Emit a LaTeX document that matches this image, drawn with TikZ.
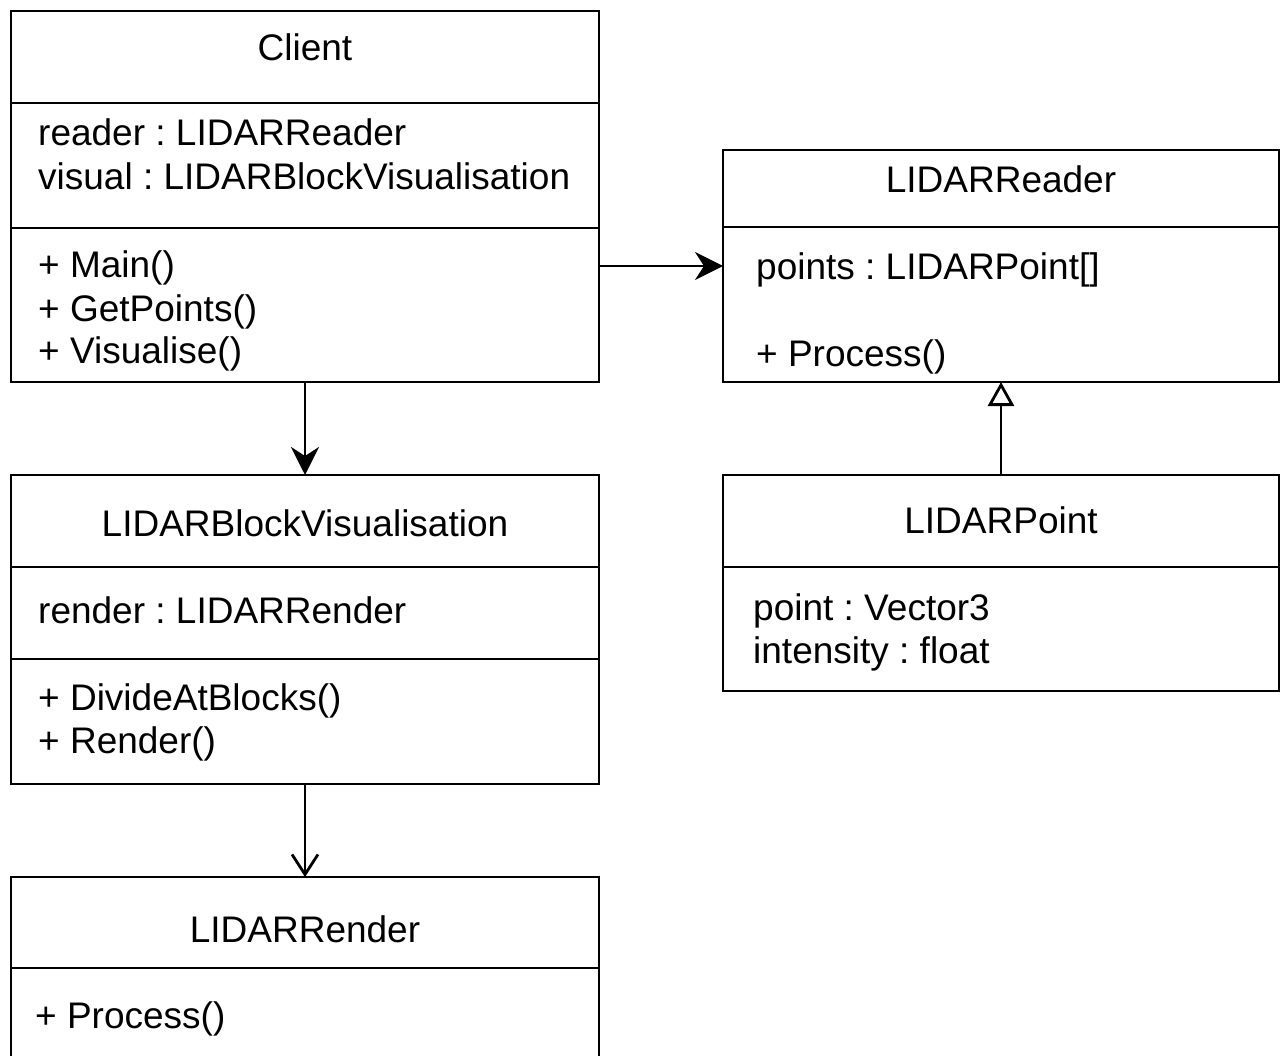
\documentclass[tikz,border=0pt]{standalone}
\usepackage{fontspec}
\setmainfont{Liberation Sans}
\frenchspacing
\usetikzlibrary{arrows.meta}
\tikzset{
  box/.style={draw, line width=2.8pt, anchor=north west, inner sep=0pt, outer sep=0pt},
  sep/.style={line width=2.8pt},
  txt/.style={font=\fontsize{37}{44}\selectfont, inner sep=0pt, anchor=base west},
  ttl/.style={font=\fontsize{37}{44}\selectfont, inner sep=0pt, anchor=base},
  conn/.style={line width=2.8pt},
  assoc/.style={conn, -{Stealth[length=28pt,width=28pt,inset=9pt]}},
  dep/.style={conn, -{Straight Barb[length=20pt,width=26pt,line width=2.8pt]}},
  inherit/.style={conn, -{Triangle[open,length=24pt,width=26pt,fill=white,line width=2.8pt]}},
}
\begin{document}
\begin{tikzpicture}[x=1pt,y=-1pt]
\useasboundingbox[fill=white] (0,0) rectangle (1284,1056);

% Client
\node[box, minimum width=588pt, minimum height=371pt] (client) at (11,11) {};
\draw[sep] (11,103) -- (599,103);
\draw[sep] (11,228) -- (599,228);
\node[ttl] (clientT) at (305,61) {Client};
\node[txt] (clientA1) at (38,146) {reader : LIDARReader};
\node[txt] (clientA2) at (38,190) {visual : LIDARBlockVisualisation};
\node[txt] (clientM1) at (38,278) {+ Main()};
\node[txt] (clientM2) at (38,321) {+ GetPoints()};
\node[txt] (clientM3) at (38,363) {+ Visualise()};

% LIDARReader
\node[box, minimum width=556pt, minimum height=232pt] (reader) at (723,150) {};
\draw[sep] (723,227) -- (1279,227);
\node[ttl] (readerT) at (1001,193) {LIDARReader};
\node[txt] (readerA1) at (756,280) {points : LIDARPoint[]};
\node[txt] (readerM1) at (756,366) {+ Process()};

% LIDARBlockVisualisation
\node[box, minimum width=588pt, minimum height=309pt] (blockvis) at (11,475) {};
\draw[sep] (11,567) -- (599,567);
\draw[sep] (11,659) -- (599,659);
\node[ttl] (blockvisT) at (305,536) {LIDARBlockVisualisation};
\node[txt] (blockvisA1) at (38,623) {render : LIDARRender};
\node[txt] (blockvisM1) at (38,710) {+ DivideAtBlocks()};
\node[txt] (blockvisM2) at (38,753) {+ Render()};

% LIDARRender
\node[box, minimum width=588pt, minimum height=220pt] (render) at (11,877) {};
\draw[sep] (11,968) -- (599,968);
\node[ttl] (renderT) at (305,942) {LIDARRender};
\node[txt] (renderM1) at (35,1028) {+ Process()};

% LIDARPoint
\node[box, minimum width=556pt, minimum height=216pt] (point) at (723,475) {};
\draw[sep] (723,567) -- (1279,567);
\node[ttl] (pointT) at (1001,533) {LIDARPoint};
\node[txt] (pointA1) at (753,620) {point : Vector3};
\node[txt] (pointA2) at (753,663) {intensity : float};

% Relations
\draw[assoc] (client.east |- 0,266) -- (reader.west |- 0,266);
\draw[assoc] (client.south) -- (blockvis.north);
\draw[dep] (blockvis.south) -- (render.north);
\draw[inherit] (point.north) -- (reader.south);
\end{tikzpicture}
\end{document}
